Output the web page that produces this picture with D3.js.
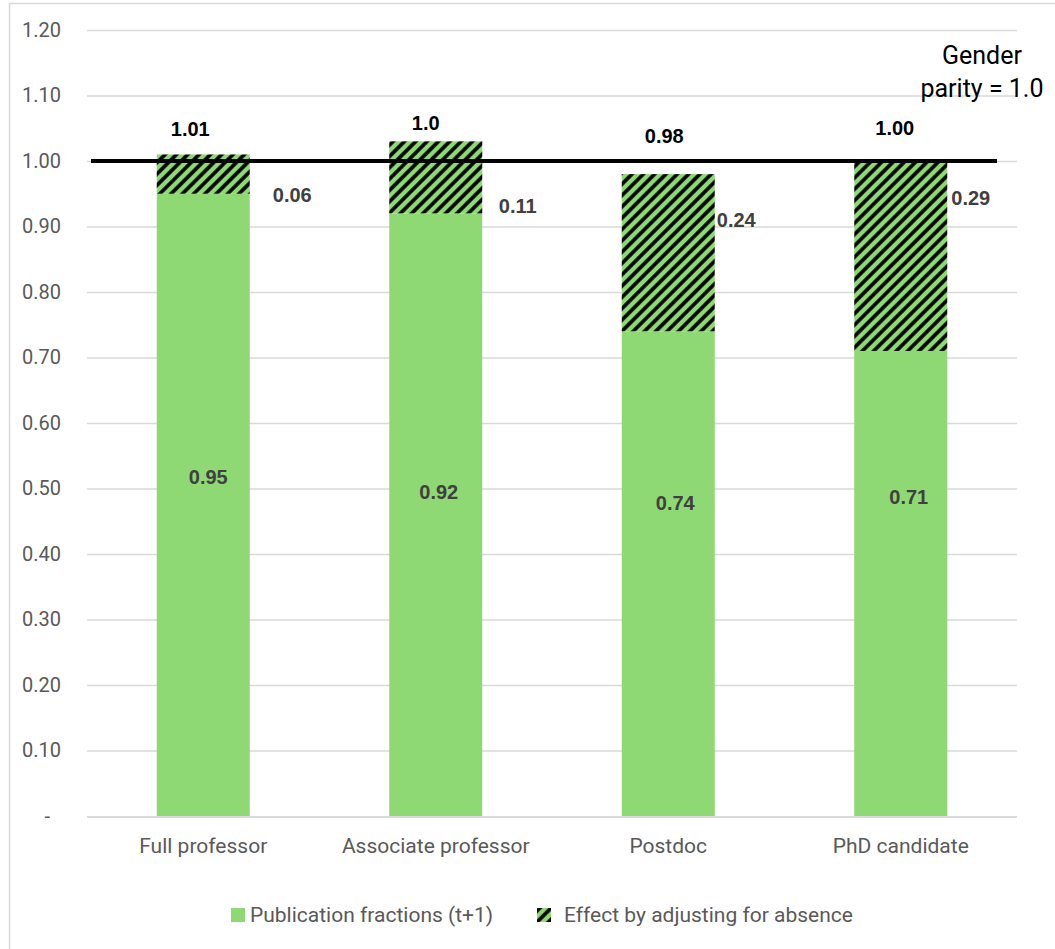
<!DOCTYPE html>
<html>
<head>
<meta charset="utf-8">
<script src="https://cdn.jsdelivr.net/npm/d3@7"></script>
<style>
  body { margin: 0; background: #fff; }
  svg { display: block; }
</style>
</head>
<body>
<script>
var categories  = ['Full professor', 'Associate professor', 'Postdoc', 'PhD candidate'];
var publication = [0.95, 0.92, 0.74, 0.71];
var adjustment  = [0.06, 0.11, 0.24, 0.29];
var totalLabels = ['1.01', '1.0', '0.98', '1.00'];
var yTicks      = [0, 0.1, 0.2, 0.3, 0.4, 0.5, 0.6, 0.7, 0.8, 0.9, 1.0, 1.1, 1.2];
var parity      = 1.0;
var seriesNames = ['Publication fractions (t+1)', 'Effect by adjusting for absence'];

// hand placed label nudges (px), as in the original chart
var totalNudge = [[-13, -25], [-10, -18], [-4, -38], [-6, -33]];
var adjNudge   = [[89, 41], [82, 65], [68, 46], [70, 37]];
var baseNudgeX = [5, 3, 7, 8];
var baseY      = [477, 492, 503, 497];

var width  = 1055;
var height = 949;
var green  = '#8ed973';
var grey   = '#595959';
var font   = 'Roboto, "Liberation Sans", sans-serif';

var svg = d3.select('body')
  .append('svg')
  .attr('width', width)
  .attr('height', height);

var defs = svg.append('defs');
var pattern = defs.append('pattern')
  .attr('id', 'hatch')
  .attr('patternUnits', 'userSpaceOnUse')
  .attr('width', 8)
  .attr('height', 8)
  .attr('patternTransform', 'rotate(45)');
pattern.append('rect').attr('width', 8).attr('height', 8).attr('fill', green);
pattern.append('line')
  .attr('x1', 2).attr('y1', 0).attr('x2', 2).attr('y2', 8)
  .attr('stroke', '#000').attr('stroke-width', 3.6);

// chart border
svg.append('rect')
  .attr('x', 9.5).attr('y', 3.5)
  .attr('width', width).attr('height', height)
  .attr('fill', 'none').attr('stroke', '#d9d9d9').attr('stroke-width', 1.5);

var x = d3.scaleBand().domain(categories).range([87, 1017]).paddingInner(0.6).paddingOuter(0.3);
var y = d3.scaleLinear().domain([0, 1.2]).range([816, 30]);

// gridlines
svg.append('g')
  .selectAll('line')
  .data(yTicks.slice(1))
  .enter().append('line')
  .attr('x1', 87).attr('x2', 1017)
  .attr('y1', function(d) { return y(d) + 0.5; })
  .attr('y2', function(d) { return y(d) + 0.5; })
  .attr('stroke', '#d9d9d9').attr('stroke-width', 1.3);

// y axis labels
var yAxis = d3.axisLeft(y)
  .tickValues(yTicks)
  .tickSize(0)
  .tickPadding(0)
  .tickFormat(function(d) { return d === 0 ? '-' : d3.format('.2f')(d); });
var yg = svg.append('g').attr('transform', 'translate(61,0)').call(yAxis);
yg.select('.domain').remove();
yg.selectAll('text')
  .attr('fill', grey)
  .style('font-family', font)
  .style('font-size', '20px')
  .attr('dx', function(d) { return d === 0 ? -11 : 0; });

// bars
var bars = svg.append('g').selectAll('g')
  .data(categories)
  .enter().append('g');

bars.append('rect')
  .attr('x', function(d) { return x(d); })
  .attr('width', x.bandwidth())
  .attr('y', function(d, i) { return y(publication[i]); })
  .attr('height', function(d, i) { return y(0) - y(publication[i]); })
  .attr('fill', green);

bars.append('rect')
  .attr('x', function(d) { return x(d); })
  .attr('width', x.bandwidth())
  .attr('y', function(d, i) { return y(publication[i] + adjustment[i]); })
  .attr('height', function(d, i) { return y(publication[i]) - y(publication[i] + adjustment[i]); })
  .attr('fill', 'url(#hatch)');

// x axis
var xAxis = d3.axisBottom(x).tickSize(0).tickPadding(22);
var xg = svg.append('g').attr('transform', 'translate(0,' + y(0) + ')').call(xAxis);
xg.select('.domain').attr('stroke', '#d9d9d9').attr('stroke-width', 2).attr('d', 'M87,1H1017');
xg.selectAll('text')
  .attr('fill', grey)
  .style('font-family', font)
  .style('font-size', '21px');

// parity line
svg.append('line')
  .attr('x1', 91).attr('x2', 997)
  .attr('y1', y(parity)).attr('y2', y(parity))
  .attr('stroke', '#000').attr('stroke-width', 4);

svg.append('text')
  .attr('x', 982).attr('y', 55)
  .attr('text-anchor', 'middle')
  .attr('dominant-baseline', 'central')
  .style('font-family', font)
  .style('font-size', '25px')
  .attr('fill', '#000')
  .selectAll('tspan')
  .data(['Gender', 'parity = 1.0'])
  .enter().append('tspan')
  .attr('x', 982)
  .attr('dy', function(d, i) { return i === 0 ? 0 : 33; })
  .text(function(d) { return d; });

// labels
var center = function(d) { return x(d) + x.bandwidth() / 2; };

bars.append('text')
  .attr('x', function(d, i) { return center(d) + totalNudge[i][0]; })
  .attr('y', function(d, i) { return y(publication[i] + adjustment[i]) + totalNudge[i][1]; })
  .text(function(d, i) { return totalLabels[i]; })
  .attr('fill', '#000');

bars.append('text')
  .attr('x', function(d, i) { return center(d) + adjNudge[i][0]; })
  .attr('y', function(d, i) { return y(publication[i] + adjustment[i]) + adjNudge[i][1]; })
  .text(function(d, i) { return d3.format('.2f')(adjustment[i]); })
  .attr('fill', '#404040');

bars.append('text')
  .attr('x', function(d, i) { return center(d) + baseNudgeX[i]; })
  .attr('y', function(d, i) { return baseY[i]; })
  .text(function(d, i) { return d3.format('.2f')(publication[i]); })
  .attr('fill', '#404040');

bars.selectAll('text')
  .attr('text-anchor', 'middle')
  .attr('dominant-baseline', 'central')
  .style('font-family', '"Liberation Sans", Arial, sans-serif')
  .style('font-weight', 'bold')
  .style('font-size', '20px');

// legend
var legend = svg.append('g').selectAll('g')
  .data(seriesNames)
  .enter().append('g')
  .attr('transform', function(d, i) { return 'translate(' + (i === 0 ? 231 : 537) + ',908)'; });

legend.append('rect')
  .attr('width', 14).attr('height', 14)
  .attr('fill', function(d, i) { return i === 0 ? green : 'url(#hatch)'; });

legend.append('text')
  .attr('x', function(d, i) { return i === 0 ? 19 : 27; })
  .attr('y', 7)
  .attr('dominant-baseline', 'central')
  .attr('fill', grey)
  .style('font-family', font)
  .style('font-size', '21px')
  .text(function(d) { return d; });
</script>
</body>
</html>
